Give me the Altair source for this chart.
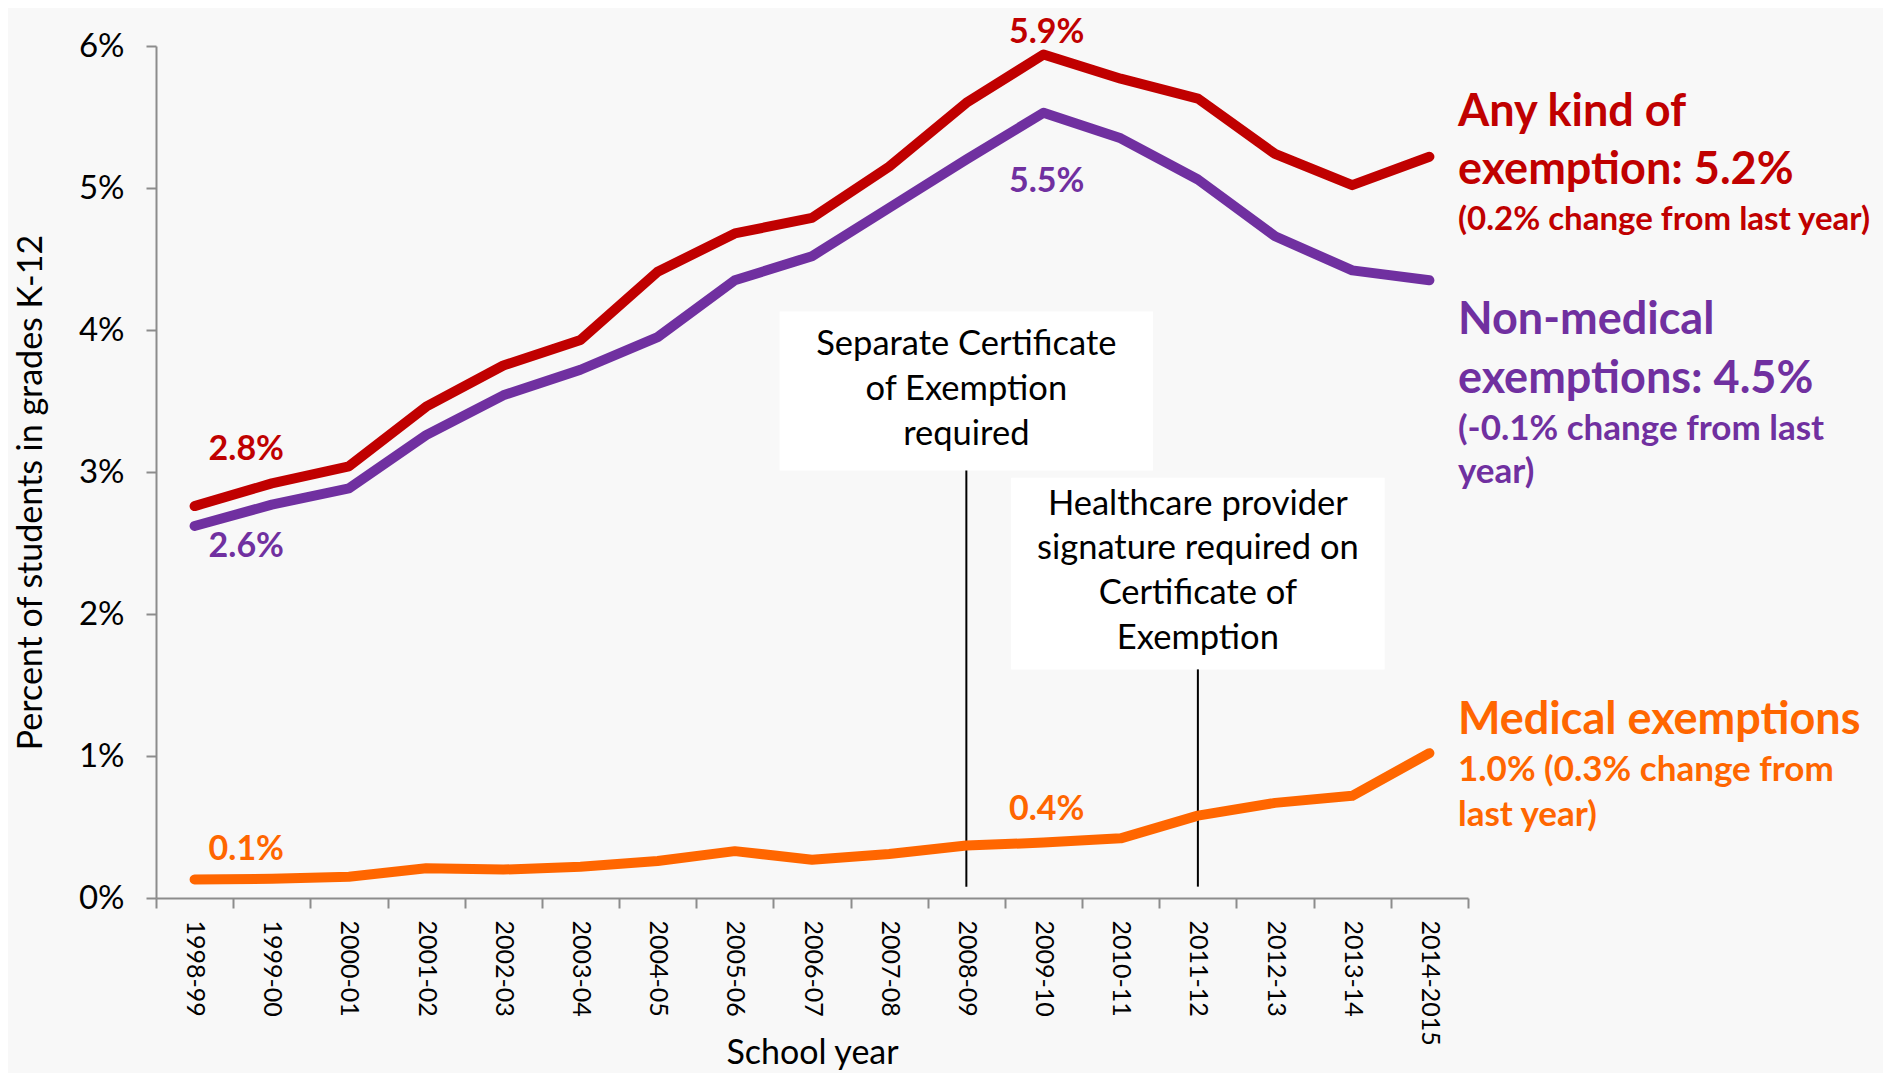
import altair as alt
import pandas as pd

years = ["1998-99", "1999-00", "2000-01", "2001-02", "2002-03", "2003-04", "2004-05",
         "2005-06", "2006-07", "2007-08", "2008-09", "2009-10", "2010-11", "2011-12",
         "2012-13", "2013-14", "2014-2015"]
any_kind = [2.76, 2.92, 3.04, 3.46, 3.75, 3.93, 4.41, 4.68, 4.79, 5.15, 5.60, 5.94, 5.77, 5.63, 5.24, 5.02, 5.22]
non_medical = [2.62, 2.77, 2.885, 3.26, 3.54, 3.72, 3.95, 4.35, 4.52, 4.86, 5.20, 5.53, 5.35, 5.06, 4.66, 4.42, 4.35]
medical = [0.13, 0.135, 0.15, 0.21, 0.20, 0.22, 0.26, 0.33, 0.27, 0.31, 0.37, 0.39, 0.42, 0.58, 0.67, 0.72, 1.02]

RED, PURPLE, ORANGE = "#C00000", "#7030A0", "#FF6600"
FONT = "Lato"

# point labels on the lines
pt_text = ["2.8%", "2.6%", "5.9%", "5.5%", "0.1%", "0.4%"]
pt_x = [0.67, 0.67, 11.04, 11.04, 0.67, 11.04]
pt_y = [3.155, 2.472, 6.095, 5.04, 0.338, 0.62]
pt_col = [RED, PURPLE, RED, PURPLE, ORANGE, ORANGE]

# right-hand series annotations
side_text = ["Any kind of", "exemption: 5.2%", "(0.2% change from last year)",
             "Non-medical", "exemptions: 4.5%", "(-0.1% change from last", "year)",
             "Medical exemptions", "1.0% (0.3% change from", "last year)"]
side_y = [5.535, 5.127, 4.775, 4.07, 3.655, 3.30, 3.0, 1.254, 0.90, 0.585]
side_size = [45, 45, 33, 45, 45, 35, 35, 45, 35, 35]
side_col = [RED, RED, RED, PURPLE, PURPLE, PURPLE, PURPLE, ORANGE, ORANGE, ORANGE]
side_x = 16.37

# policy-change boxes
box_lines = [["Separate Certificate", "of Exemption", "required"],
             ["Healthcare provider", "signature required on", "Certificate of", "Exemption"]]
box_center = [10, 13]
box_half = 2.42
box_bottom = [3.01, 1.61]
box_top = [4.13, 2.96]
box_line_y = [[3.894, 3.577, 3.26], [2.768, 2.458, 2.141, 1.824]]
rule_bottom = [0.08, 0.08]

n = len(years)
rows = []
for name, vals in [("Any kind of exemption", any_kind),
                   ("Non-medical exemptions", non_medical),
                   ("Medical exemptions", medical)]:
    for i, v in enumerate(vals):
        rows.append({"x": i, "y": v, "series": name, "year": years[i]})
lines_df = pd.DataFrame(rows)

pt_df = pd.DataFrame({"x": pt_x, "y": pt_y, "t": pt_text, "c": pt_col})
side_df = pd.DataFrame({"x": [side_x] * len(side_text), "y": side_y, "t": side_text,
                        "s": side_size, "c": side_col})
box_df = pd.DataFrame({"x": [c - box_half for c in box_center],
                       "x2": [c + box_half for c in box_center],
                       "y": box_bottom, "y2": box_top})
rule_df = pd.DataFrame({"x": box_center, "y": rule_bottom, "y2": box_bottom})
bt_rows = []
for k, ls in enumerate(box_lines):
    for j, t in enumerate(ls):
        bt_rows.append({"x": box_center[k], "y": box_line_y[k][j], "t": t})
bt_df = pd.DataFrame(bt_rows)

W, H = 1312, 852
band = W / n
arr = "[" + ",".join("'%s'" % y for y in years) + "]"

xscale = alt.Scale(domain=[-0.5, n - 0.5], nice=False, zero=False)
yscale = alt.Scale(domain=[0, 6], nice=False, zero=True)

xaxis = alt.Axis(values=[i - 0.5 for i in range(n + 1)],
                 labelExpr="datum.value < %d ? %s[round(datum.value + 0.5)] : ''" % (n - 1, arr),
                 labelAngle=90, labelAlign="left", labelBaseline="middle",
                 labelOffset=band / 2, labelPadding=12, labelFontSize=25, labelFont=FONT,
                 labelColor="black", labelFlush=False, labelOverlap=False,
                 domainColor="#8c8c8c", domainWidth=2, tickColor="#8c8c8c", tickWidth=2,
                 tickSize=10, grid=False,
                 title="School year", titleFont=FONT, titleFontSize=34,
                 titleFontWeight="normal", titleColor="black",
                 titleBaseline="alphabetic", titleY=165)
yaxis = alt.Axis(values=[0, 1, 2, 3, 4, 5, 6], labelExpr="datum.value + '%'",
                 labelFontSize=33, labelFont=FONT, labelColor="black", labelPadding=22,
                 domainColor="#8c8c8c", domainWidth=2, tickColor="#8c8c8c", tickWidth=2,
                 tickSize=10, grid=False,
                 title="Percent of students in grades K-12", titleFont=FONT,
                 titleFontSize=34, titleFontWeight="normal", titleColor="black",
                 titleBaseline="middle", titleX=-125, titleY=446)

X = alt.X("x:Q", scale=xscale, axis=xaxis)
Y = alt.Y("y:Q", scale=yscale, axis=yaxis)

boxes = alt.Chart(box_df).mark_rect(color="white").encode(x=X, x2="x2:Q", y=Y, y2="y2:Q")
rules = alt.Chart(rule_df).mark_rule(color="black", strokeWidth=2).encode(x=X, y=Y, y2="y2:Q")
lines = alt.Chart(lines_df).mark_line(strokeWidth=10, strokeCap="round", strokeJoin="round").encode(
    x=X, y=Y,
    color=alt.Color("series:N", scale=alt.Scale(
        domain=["Any kind of exemption", "Non-medical exemptions", "Medical exemptions"],
        range=[RED, PURPLE, ORANGE]), legend=None),
    detail="series:N")
pts = alt.Chart(pt_df).mark_text(font=FONT, fontSize=34, fontWeight="bold",
                                 align="center", baseline="middle").encode(
    x=X, y=Y, text="t:N", color=alt.Color("c:N", scale=None))
side = alt.Chart(side_df).mark_text(font=FONT, fontWeight="bold", align="left",
                                    baseline="middle").encode(
    x=X, y=Y, text="t:N", color=alt.Color("c:N", scale=None),
    size=alt.Size("s:Q", scale=None, legend=None))
btext = alt.Chart(bt_df).mark_text(font=FONT, fontSize=34.5, color="black",
                                   align="center", baseline="middle").encode(
    x=X, y=Y, text="t:N")

chart = alt.layer(boxes, rules, lines, pts, side, btext).properties(
    width=W, height=H,
    autosize=alt.AutoSizeParams(type="none"),
    padding={"left": 148, "top": 38, "right": 415, "bottom": 175},
    background="#f8f8f8",
).configure_view(stroke=None)

chart.save("out.html", embed_options={"renderer": "svg", "actions": False})
